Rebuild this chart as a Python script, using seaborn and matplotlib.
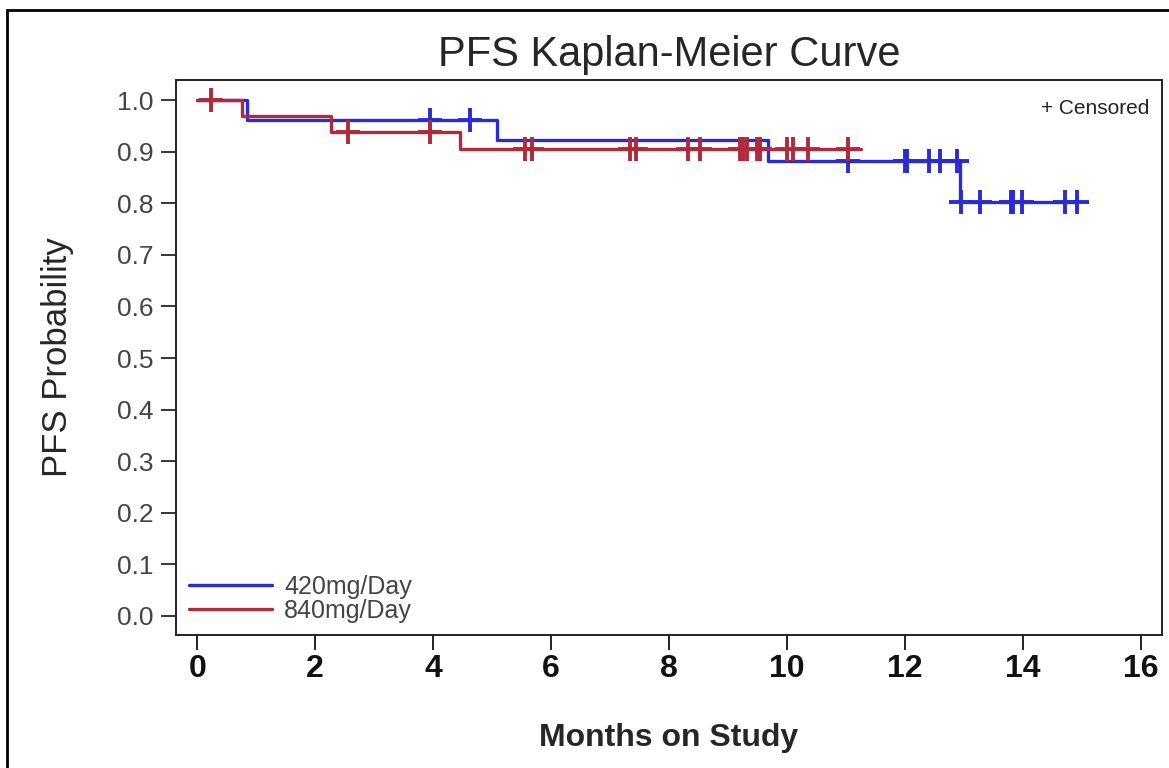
import numpy as np
import pandas as pd
import matplotlib
matplotlib.use("Agg")
import matplotlib.pyplot as plt
import matplotlib.patches as mpatches
import seaborn as sns

# step points of the two curves (time of each drop, survival after it)
blue_times = [0.0, 0.85, 5.09, 9.68, 12.94]
blue_surv = [1.0, 0.962, 0.923, 0.882, 0.803]
blue_end = 14.92
blue_censor = [3.94, 4.62, 11.04, 12.0, 12.04, 12.41, 12.6, 12.89,
               12.95, 13.28, 13.8, 13.84, 13.99, 14.72, 14.92]

red_times = [0.0, 0.76, 2.27, 4.45]
red_surv = [1.0, 0.969, 0.938, 0.906]
red_end = 11.25
red_censor = [0.24, 2.55, 3.94, 5.55, 5.67, 7.33, 7.44, 8.32, 8.52, 9.2,
              9.25, 9.32, 9.49, 9.54, 10.0, 10.1, 10.36, 11.04]

groups = ["420mg/Day", "840mg/Day"]
colors = ["#2b2bd3", "#b02a3c"]

sns.set_style("ticks")
plt.rcParams["font.family"] = ["Liberation Sans", "DejaVu Sans"]


def step_frame(times, surv, end, name):
    return pd.DataFrame({"time": times + [end], "surv": surv + [surv[-1]], "group": name})


def censor_frame(times, surv, ctimes, name):
    idx = np.searchsorted(times, ctimes, side="right") - 1
    return pd.DataFrame({"time": ctimes, "surv": np.array(surv)[idx], "group": name})


steps = pd.concat([step_frame(blue_times, blue_surv, blue_end, groups[0]),
                   step_frame(red_times, red_surv, red_end, groups[1])])
cens = pd.concat([censor_frame(blue_times, blue_surv, blue_censor, groups[0]),
                  censor_frame(red_times, red_surv, red_censor, groups[1])])

fig = plt.figure(figsize=(11.69, 7.68), dpi=100)
ax = fig.add_axes([0.1506, 0.1732, 0.8434, 0.7226])

pal = dict(zip(groups, colors))
sns.lineplot(data=steps, x="time", y="surv", hue="group", palette=pal,
             drawstyle="steps-post", estimator=None, sort=False,
             linewidth=2.4, ax=ax)
for g in groups:
    sub = cens[cens["group"] == g]
    sns.scatterplot(data=sub, x="time", y="surv", color=pal[g], marker="+",
                    s=280, linewidth=2.8, legend=False, ax=ax, zorder=3)

ax.set_xlim(-0.36, 16.36)
ax.set_ylim(-0.037, 1.039)
ax.set_xticks(np.arange(0, 17, 2))
ax.set_yticks(np.arange(0, 1.01, 0.1))
ax.set_yticklabels([f"{v:.1f}" for v in np.arange(0, 1.01, 0.1)])
ax.tick_params(axis="x", length=11, width=1.3, labelsize=23, pad=3, colors="#111111")
ax.tick_params(axis="y", length=11, width=1.3, labelsize=19, pad=5, labelcolor="#444444")
for lab in ax.get_xticklabels():
    lab.set_fontweight("bold")
for sp in ax.spines.values():
    sp.set_visible(True)
    sp.set_linewidth(1.4)
    sp.set_color("#222222")

ax.set_xlabel("Months on Study", fontsize=23, fontweight="bold", labelpad=28)
ax.set_ylabel("PFS Probability", fontsize=25, labelpad=31)
ax.set_title("PFS Kaplan-Meier Curve", fontsize=30, pad=10)

ax.text(0.9875, 0.965, "+ Censored", transform=ax.transAxes, ha="right",
        va="top", fontsize=15, color="#222222")

leg = ax.legend(loc="lower left", bbox_to_anchor=(-0.003, -0.008), frameon=False,
                fontsize=18, handlelength=3.3, handletextpad=0.5,
                labelspacing=0.0, borderaxespad=0.25, labelcolor="#444444")
for line in leg.get_lines():
    line.set_linewidth(2.4)

# outer frame around the whole graphic
fig.patches.append(mpatches.Rectangle((0.006, -0.02), 1.1, 1.007, fill=False,
                                      edgecolor="black", linewidth=2.0,
                                      transform=fig.transFigure, figure=fig))

fig.savefig("out.png", dpi=100)
